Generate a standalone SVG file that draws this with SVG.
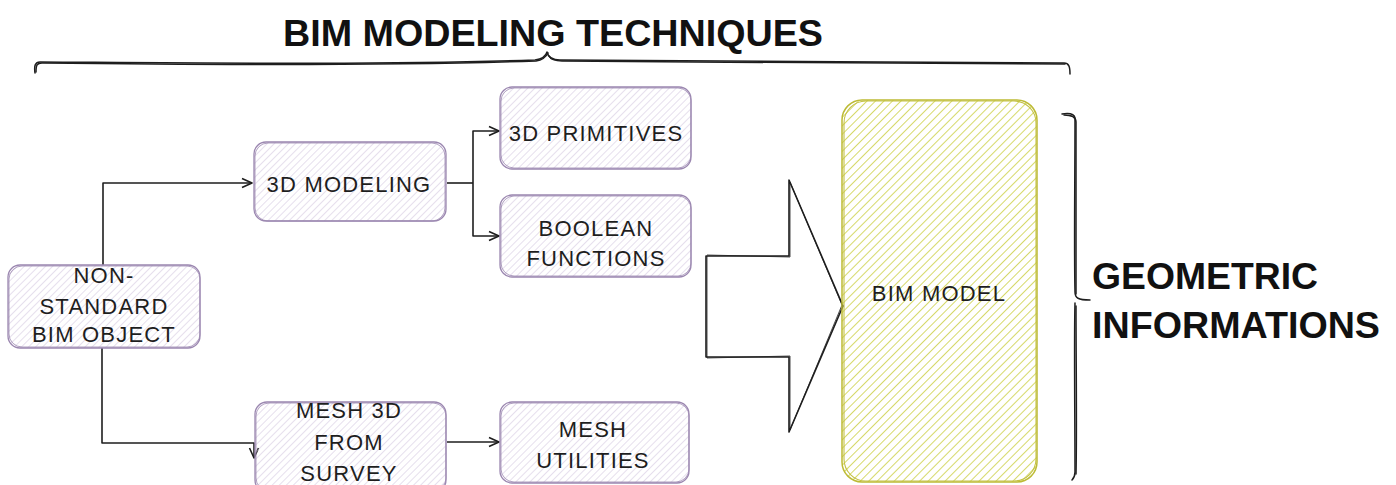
<svg xmlns="http://www.w3.org/2000/svg" width="1396" height="485" viewBox="0 0 1396 485">
  <style>
    .box { fill: url(#hatchPurple); stroke: #9b87b0; stroke-width: 1.3; }
    .box2 { fill: none; stroke: #9b87b0; stroke-width: 1; opacity: 0.8; }
    .model { fill: url(#hatchYellow); stroke: #bdbb35; stroke-width: 1.5; }
    .model2 { fill: none; stroke: #c4c245; stroke-width: 1.1; }
    .lbl { font-family: "Liberation Sans", Arial, sans-serif; font-size: 22px; fill: #1e1e1e; text-anchor: middle; letter-spacing: 1.2px; }
    .big { font-family: "Liberation Sans", Arial, sans-serif; font-weight: bold; fill: #111111; }
    .wire { fill: none; stroke: #1e1e1e; stroke-width: 1.6; stroke-linejoin: round; }
    .ink { fill: none; stroke: #1e1e1e; stroke-width: 1.5; stroke-linecap: round; stroke-linejoin: round; }
  </style>
  <defs>
    <pattern id="hatchPurple" patternUnits="userSpaceOnUse" width="5" height="5" patternTransform="rotate(45)">
      <line x1="0" y1="0" x2="0" y2="5" stroke="#cdbfdc" stroke-width="1"/>
    </pattern>
    <pattern id="hatchYellow" patternUnits="userSpaceOnUse" width="6" height="6" patternTransform="rotate(45)">
      <line x1="0" y1="0" x2="0" y2="6" stroke="#cfd24f" stroke-width="1.7"/>
    </pattern>
    <marker id="head" viewBox="0 0 12 12" refX="11" refY="6" markerWidth="12" markerHeight="12" markerUnits="userSpaceOnUse" orient="auto">
      <path d="M1 1.5 L11 6 L1 10.5" fill="none" stroke="#1e1e1e" stroke-width="1.6" stroke-linejoin="round"/>
    </marker>
  </defs>

  <!-- title and top brace -->
  <g id="title">
    <text class="big" x="553" y="46" font-size="36" text-anchor="middle" textLength="540" lengthAdjust="spacingAndGlyphs">BIM MODELING TECHNIQUES</text>
    <path class="ink" d="M35 73 C34 66 35 62 40 62 C200 63 380 65 535 60 C542 59 546 56 547 52 C548 57 552 60 560 60 C720 61 900 62 1064 63 C1069 63 1070 67 1070 74"/>
    <path class="ink" d="M36 72 C36 65 37 63 42 63 C210 65 390 66 536 61 C543 60 546 57 548 53 M549 56 C551 60 556 61 562 61 C730 62 910 64 1065 64" stroke-width="0.9"/>
  </g>

  <!-- right brace and label -->
  <g id="geometric-informations">
    <path class="ink" d="M1062 114 C1068 113 1074 113 1075 118 C1075 180 1074 250 1075 292 C1075 298 1078 300 1090 300 M1075 303 C1074 340 1075 420 1075 472 C1075 476 1074 478 1072 480"/>
    <path class="ink" stroke-width="0.9" d="M1064 115 C1070 115 1076 116 1076 122 C1076 190 1076 250 1076 294 M1076 306 C1076 360 1077 430 1076 474"/>
    <text class="big" x="1092" y="289" font-size="37" textLength="226" lengthAdjust="spacingAndGlyphs">GEOMETRIC</text>
    <text class="big" x="1092" y="338" font-size="37" textLength="288" lengthAdjust="spacingAndGlyphs">INFORMATIONS</text>
  </g>

  <!-- connectors -->
  <g id="connectors">
    <path class="wire" d="M103 265 L103 183 L252 183" marker-end="url(#head)"/>
    <path class="wire" d="M102 348 L102 443 L254 443 L254 458" marker-end="url(#head)"/>
    <path class="wire" d="M447 183 L473 183"/>
    <path class="wire" d="M473 183 L473 131 L499 131" marker-end="url(#head)"/>
    <path class="wire" d="M473 183 L473 236 L499 236" marker-end="url(#head)"/>
    <path class="wire" d="M447 442 L499 442" marker-end="url(#head)"/>
    <!-- block arrow into the model -->
    <polygon points="706,256 789,256 789,180 843,306 789,432 789,357 706,357" fill="#ffffff" stroke="#1e1e1e" stroke-width="1.6" stroke-linejoin="round"/>
    <polyline points="707,255 790,257 790,182 842,305 790,430 790,356 707,358 707,256" fill="none" stroke="#1e1e1e" stroke-width="0.8"/>
  </g>

  <g id="non-standard-bim-object">
    <rect class="box" x="8" y="265" width="192" height="83" rx="12"/>
    <rect class="box2" x="9" y="266" width="191" height="81" rx="13"/>
    <text class="lbl"><tspan x="104" y="283">NON-</tspan><tspan x="104" y="314">STANDARD</tspan><tspan x="104" y="342">BIM OBJECT</tspan></text>
  </g>

  <g id="modeling-3d">
    <rect class="box" x="254" y="142" width="192" height="79" rx="12"/>
    <rect class="box2" x="255" y="143" width="190" height="78" rx="13"/>
    <text class="lbl" x="349" y="192">3D MODELING</text>
  </g>

  <g id="primitives-3d">
    <rect class="box" x="500" y="87" width="191" height="82" rx="12"/>
    <rect class="box2" x="501" y="88" width="190" height="80" rx="13"/>
    <text class="lbl" x="596" y="141">3D PRIMITIVES</text>
  </g>

  <g id="boolean-functions">
    <rect class="box" x="500" y="195" width="191" height="82" rx="12"/>
    <rect class="box2" x="501" y="196" width="190" height="80" rx="13"/>
    <text class="lbl"><tspan x="596" y="236">BOOLEAN</tspan><tspan x="596" y="266">FUNCTIONS</tspan></text>
  </g>

  <g id="mesh-3d-from-survey">
    <rect class="box" x="255" y="402" width="191" height="90" rx="12"/>
    <rect class="box2" x="256" y="403" width="190" height="88" rx="13"/>
    <text class="lbl"><tspan x="349" y="418">MESH 3D</tspan><tspan x="349" y="450">FROM</tspan><tspan x="349" y="481">SURVEY</tspan></text>
  </g>

  <g id="mesh-utilities">
    <rect class="box" x="500" y="402" width="189" height="81" rx="12"/>
    <rect class="box2" x="501" y="403" width="188" height="79" rx="13"/>
    <text class="lbl"><tspan x="593" y="437">MESH</tspan><tspan x="593" y="468">UTILITIES</tspan></text>
  </g>

  <g id="bim-model">
    <rect class="model" x="842" y="100" width="195" height="382" rx="20"/>
    <rect class="model2" x="844" y="101" width="192" height="380" rx="22"/>
    <text class="lbl" x="939" y="301">BIM MODEL</text>
  </g>
</svg>
